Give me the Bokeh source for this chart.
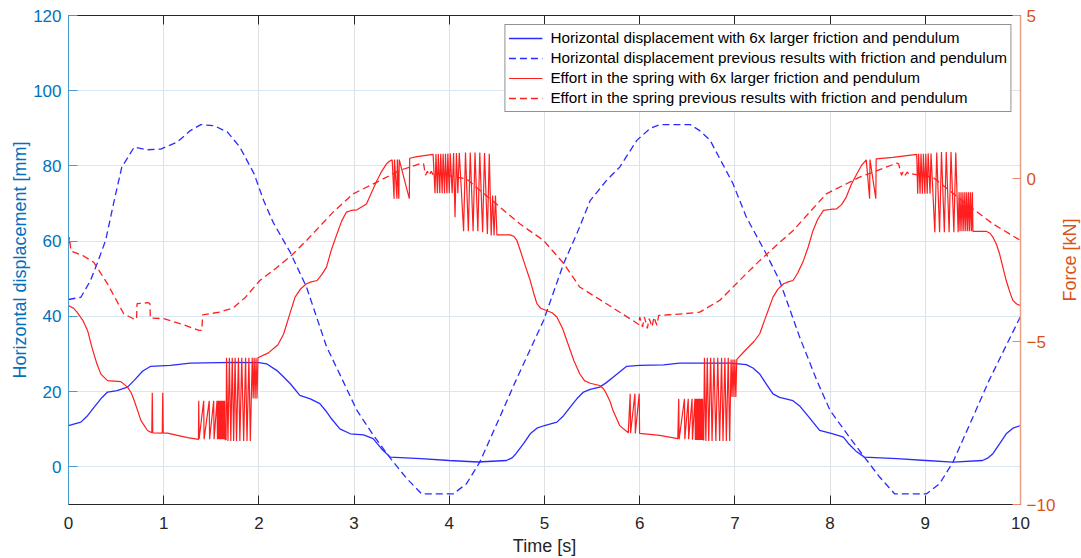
import math
from bokeh.plotting import figure
from bokeh.layouts import row
from bokeh.models import Range1d, LinearAxis, FixedTicker, Legend, LegendItem
from bokeh.core.properties import value
from bokeh.embed import file_html
from bokeh.resources import INLINE

# ---------------- data ----------------
x_ticks = [0, 1, 2, 3, 4, 5, 6, 7, 8, 9, 10]
left_ticks = [0, 20, 40, 60, 80, 100, 120]
right_ticks = [-10, -5, 0, 5]

legend_labels = [
    "Horizontal displacement with 6x larger friction and pendulum",
    "Horizontal displacement previous results with friction and pendulum",
    "Effort in the spring with 6x larger friction and pendulum",
    "Effort in the spring previous results with friction and pendulum",
]

# Horizontal displacement, 6x larger friction [mm]
t_disp_new = [0.00, 0.13, 0.20, 0.27, 0.35, 0.41, 0.51, 0.62, 0.69, 0.78, 0.86, 1.07, 1.28, 1.73,
              2.00, 2.08, 2.19, 2.26, 2.33, 2.43, 2.54, 2.64, 2.70, 2.75, 2.85, 2.96, 3.10, 3.20,
              3.25, 3.30, 3.38, 3.70, 4.00, 4.30, 4.60, 4.66, 4.70, 4.78, 4.85, 4.92, 5.00, 5.13,
              5.20, 5.27, 5.35, 5.41, 5.48, 5.58, 5.65, 5.72, 5.86, 6.00, 6.25, 6.42, 6.95, 7.12,
              7.19, 7.26, 7.33, 7.40, 7.47, 7.61, 7.68, 7.75, 7.89, 8.03, 8.14, 8.20, 8.28, 8.36,
              8.70, 9.01, 9.29, 9.60, 9.66, 9.71, 9.78, 9.85, 9.92, 10.00]
disp_new = [11.0, 11.9, 13.6, 15.9, 18.4, 19.9, 20.3, 21.2, 23.0, 25.5, 26.7, 27.0, 27.6, 27.8,
            27.7, 27.4, 25.6, 23.9, 22.1, 19.0, 18.1, 16.8, 15.0, 13.2, 10.1, 8.8, 8.5, 7.5,
            6.0, 4.5, 2.6, 2.2, 1.7, 1.3, 1.7, 2.4, 3.5, 6.2, 8.8, 10.3, 11.0, 11.9,
            13.6, 15.9, 18.4, 19.9, 20.6, 21.2, 22.4, 23.8, 26.7, 27.0, 27.1, 27.6, 27.6, 27.2,
            26.3, 24.7, 22.0, 19.4, 18.5, 17.6, 16.2, 14.1, 9.7, 8.8, 7.9, 6.0, 4.0, 2.6,
            2.2, 1.7, 1.25, 1.7, 2.4, 3.5, 6.1, 8.8, 10.3, 11.0]

# Horizontal displacement, previous results [mm]
t_disp_prev = [0.00, 0.13, 0.23, 0.30, 0.39, 0.48, 0.56, 0.69, 0.82, 0.97, 1.14, 1.28, 1.39, 1.53,
               1.67, 1.80, 1.95, 2.05, 2.15, 2.33, 2.50, 2.71, 2.88, 3.03, 3.20, 3.39, 3.55, 3.71,
               4.04, 4.18, 4.32, 4.53, 4.70, 4.99, 5.20, 5.34, 5.48, 5.65, 5.79, 5.97, 6.11, 6.21,
               6.53, 6.63, 6.74, 6.98, 7.12, 7.33, 7.47, 7.68, 7.86, 8.00, 8.20, 8.36, 8.52, 8.68,
               9.01, 9.15, 9.29, 9.50, 9.67, 10.00]
disp_prev = [44.5, 45.1, 49.5, 54.0, 60.2, 70.8, 79.7, 85.0, 84.3, 84.5, 86.3, 89.4, 91.0, 90.7,
             89.0, 85.0, 77.9, 70.8, 65.0, 57.0, 47.8, 32.0, 23.0, 15.0, 8.5, 2.0, -3.0, -7.2,
             -7.2, -4.5, 1.25, 13.2, 23.0, 38.9, 54.0, 62.0, 70.8, 76.1, 79.7, 86.8, 90.0, 91.0,
             91.0, 89.4, 86.8, 75.3, 66.4, 56.6, 49.5, 34.5, 23.0, 15.0, 8.0, 2.6, -2.7, -7.2,
             -7.2, -4.5, 1.25, 13.2, 23.0, 40.0]

# Effort in the spring, 6x larger friction [kN]
t_force_new = [
    0.00, 0.05, 0.09, 0.15, 0.20, 0.25, 0.30, 0.34, 0.41, 0.55, 0.62, 0.66, 0.69, 0.73, 0.76, 0.83, 0.875,
    0.880, 0.885, 0.985, 0.990, 0.995, 1.04, 1.25, 1.365,
    1.368, 1.372, 1.420, 1.424, 1.478, 1.482, 1.525, 1.529,
    1.560, 1.565, 1.570, 1.575, 1.580, 1.585, 1.590, 1.595, 1.600, 1.605,
    1.610, 1.615, 1.620, 1.625, 1.630, 1.635, 1.640, 1.645,
    1.655, 1.660, 1.675, 1.690, 1.705, 1.720, 1.735, 1.750, 1.765, 1.785,
    1.800, 1.820, 1.840, 1.860, 1.875, 1.895, 1.910, 1.930, 1.940, 1.950,
    1.960, 1.970, 1.980, 1.990,
    2.10, 2.20, 2.26, 2.32, 2.38, 2.44, 2.50, 2.55, 2.61, 2.66, 2.71, 2.76, 2.82, 2.87, 2.92,
    2.97, 3.03, 3.13, 3.18, 3.24, 3.29, 3.34, 3.37, 3.40,
    3.420, 3.424, 3.450, 3.454, 3.470, 3.474, 3.580, 3.584,
    3.66, 3.83,
    3.850, 3.860, 3.875, 3.885, 3.900, 3.910, 3.925, 3.935, 3.950, 3.960,
    3.975, 3.985, 4.000, 4.010, 4.030, 4.045, 4.060, 4.075, 4.090, 4.105,
    4.150, 4.170, 4.200, 4.220, 4.250, 4.270, 4.300, 4.320, 4.350, 4.370,
    4.400, 4.420, 4.440, 4.455, 4.470, 4.485, 4.500,
    4.64, 4.68, 4.71, 4.745, 4.78, 4.85, 4.89, 4.92, 4.96, 5.02, 5.08, 5.13, 5.19, 5.25, 5.31,
    5.37, 5.42, 5.48, 5.58, 5.62, 5.65, 5.69, 5.72, 5.79, 5.88,
    5.900, 5.904, 5.950, 5.954, 5.995, 5.999,
    6.21, 6.40,
    6.410, 6.414, 6.470, 6.474, 6.510, 6.514, 6.550, 6.554,
    6.580, 6.585, 6.590, 6.595, 6.600, 6.605, 6.610, 6.615, 6.620, 6.625,
    6.630, 6.635, 6.640, 6.645, 6.650, 6.655, 6.660, 6.665,
    6.672, 6.680, 6.695, 6.710, 6.725, 6.745, 6.760, 6.780, 6.800, 6.820,
    6.840, 6.860, 6.875, 6.895, 6.910, 6.930, 6.945, 6.960, 6.970, 6.980,
    6.990, 7.000, 7.010, 7.020,
    7.10, 7.20, 7.26, 7.33, 7.40, 7.45, 7.51, 7.56, 7.61, 7.66, 7.72, 7.77, 7.82, 7.87, 7.93,
    8.00, 8.07, 8.12, 8.17, 8.22, 8.28, 8.33, 8.38,
    8.415, 8.419, 8.480, 8.484,
    8.66, 8.91,
    8.920, 8.930, 8.945, 8.955, 8.970, 8.980, 8.995, 9.005, 9.020, 9.030,
    9.050, 9.060, 9.100, 9.120, 9.150, 9.170, 9.200, 9.220, 9.250, 9.270,
    9.300, 9.320, 9.345, 9.355, 9.365, 9.375, 9.385, 9.395, 9.405, 9.415,
    9.425, 9.435, 9.445, 9.455, 9.465, 9.475, 9.485, 9.495, 9.500,
    9.64, 9.68, 9.71, 9.745, 9.78, 9.85, 9.89, 9.92, 9.96, 10.00,
]
force_new = [
    -3.90, -3.97, -4.10, -4.35, -4.66, -5.22, -5.70, -6.00, -6.20, -6.23, -6.40, -6.58, -6.81, -7.15, -7.42, -7.73, -7.80,
    -6.57, -7.80, -7.81, -6.57, -7.81, -7.81, -7.95, -8.00,
    -6.82, -8.00, -6.82, -8.00, -6.82, -8.00, -6.82, -8.00,
    -6.82, -8.00, -6.82, -8.00, -6.82, -8.00, -6.82, -8.00, -6.82, -8.00,
    -6.82, -8.00, -6.82, -8.00, -6.82, -8.00, -6.82, -8.00,
    -8.02, -5.50, -8.05, -5.50, -8.05, -5.50, -8.05, -5.50, -8.05, -5.50,
    -8.05, -5.50, -8.05, -5.50, -8.05, -5.50, -8.05, -5.50, -6.75, -5.50,
    -6.75, -5.50, -6.75, -5.50,
    -5.35, -5.10, -4.77, -4.20, -3.64, -3.38, -3.23, -3.17, -3.13, -2.95, -2.72, -2.20, -1.70, -1.30, -1.03,
    -0.98, -0.96, -0.78, -0.45, -0.06, 0.22, 0.45, 0.53, 0.57,
    -0.62, 0.58, -0.62, 0.58, -0.62, 0.58, -0.62, 0.62,
    0.67, 0.74,
    -0.45, 0.75, -0.45, 0.75, -0.45, 0.76, -0.45, 0.76, -0.45, 0.76,
    -0.45, 0.77, -0.45, 0.77, -0.45, 0.78, -1.19, 0.78, -0.45, 0.79,
    -1.62, 0.80, -1.62, 0.80, -1.62, 0.80, -1.62, 0.80, -1.65, 0.78,
    -1.70, 0.76, -1.75, -0.52, -1.75, -0.52, -1.73,
    -1.73, -1.78, -1.90, -2.20, -2.52, -3.13, -3.55, -3.84, -3.98, -4.05, -4.12, -4.25, -4.60, -5.10, -5.60,
    -5.99, -6.20, -6.28, -6.35, -6.45, -6.60, -6.85, -7.12, -7.58, -7.80,
    -6.60, -7.81, -6.60, -7.82, -6.60, -7.82,
    -7.88, -7.98,
    -6.76, -8.00, -6.76, -8.00, -6.76, -8.00, -6.76, -8.01,
    -6.76, -8.02, -6.76, -8.02, -6.76, -8.02, -6.76, -8.02, -6.76, -8.02,
    -6.76, -8.02, -6.76, -8.02, -6.76, -8.02, -6.76, -8.02,
    -8.02, -5.50, -8.05, -5.50, -8.05, -5.50, -8.05, -5.50, -8.05, -5.50,
    -8.05, -5.50, -8.05, -5.50, -8.05, -5.50, -8.05, -5.55, -6.70, -5.55,
    -6.70, -5.55, -6.70, -5.55,
    -5.30, -5.00, -4.77, -4.20, -3.64, -3.40, -3.23, -3.17, -3.13, -2.90, -2.52, -2.10, -1.60, -1.25, -0.98,
    -0.95, -0.93, -0.80, -0.57, -0.20, 0.14, 0.40, 0.57,
    -0.62, 0.58, -0.62, 0.60,
    0.65, 0.74,
    -0.47, 0.76, -0.47, 0.76, -0.47, 0.76, -0.47, 0.76, -0.47, 0.77,
    -0.47, 0.77, -1.65, 0.80, -1.65, 0.81, -1.65, 0.81, -1.65, 0.81,
    -1.65, 0.80, -1.65, -0.42, -1.62, -0.42, -1.62, -0.42, -1.62, -0.42,
    -1.62, -0.42, -1.62, -0.42, -1.62, -0.42, -1.62, -0.42, -1.62,
    -1.62, -1.68, -1.80, -2.00, -2.31, -3.13, -3.50, -3.74, -3.85, -3.90,
]

# Effort in the spring, previous results [kN]
t_force_prev = [0.00, 0.01, 0.025, 0.056, 0.15, 0.265, 0.41, 0.58, 0.70, 0.715, 0.72, 0.84, 0.855,
                0.86, 1.00, 1.20, 1.37, 1.40, 1.41, 1.59, 1.73, 1.86, 2.01, 2.18, 2.35, 2.50,
                2.68, 2.78, 2.99, 3.24, 3.48, 3.71, 3.73, 3.75, 3.77, 3.79, 3.81, 3.83, 3.85,
                3.87, 3.90, 4.18, 4.46, 4.74, 4.99, 5.20, 5.37, 5.65, 5.93, 5.99, 6.00, 6.03,
                6.05, 6.08, 6.10, 6.13, 6.15, 6.18, 6.20, 6.30, 6.46, 6.63, 6.84, 7.12, 7.26,
                7.47, 7.61, 7.96, 8.31, 8.70, 8.72, 8.75, 8.77, 8.79, 8.81, 8.83, 8.86, 9.08,
                9.43, 9.71, 10.00]
force_prev = [-2.00, -1.80, -2.22, -2.26, -2.36, -2.57, -3.23, -4.15, -4.33, -4.30, -3.84, -3.81, -3.84,
              -4.28, -4.30, -4.48, -4.66, -4.66, -4.18, -4.10, -3.97, -3.64, -3.13, -2.75, -2.34, -1.90,
              -1.34, -1.03, -0.47, -0.11, 0.25, 0.47, 0.45, 0.10, 0.22, 0.10, 0.22, 0.12, 0.20,
              0.13, 0.14, -0.01, -0.70, -1.39, -1.90, -2.60, -3.33, -3.84, -4.36, -4.48, -4.25, -4.55,
              -4.25, -4.60, -4.30, -4.55, -4.25, -4.50, -4.20, -4.18, -4.15, -4.10, -3.74, -2.92, -2.52,
              -1.96, -1.60, -0.47, 0.04, 0.47, 0.45, 0.10, 0.22, 0.10, 0.20, 0.12, 0.14, 0.04,
              -0.78, -1.39, -1.90]

# ---------------- styling ----------------
FONT = "Liberation Sans"
BLUE_AX = "#0072BD"
ORANGE_AX = "#D95319"
DARK = "#262626"

p = figure(width=1058, height=558, x_range=Range1d(0, 10), y_range=Range1d(-10, 120),
           output_backend="svg", toolbar_location=None,
           min_border_left=68, min_border_right=37, min_border_top=15, min_border_bottom=54)
p.extra_y_ranges = {"force": Range1d(-10, 5)}
p.outline_line_color = None
p.background_fill_color = "white"
p.border_fill_color = "white"

# grids
p.xgrid.ticker = FixedTicker(ticks=x_ticks)
p.ygrid.ticker = FixedTicker(ticks=left_ticks)
p.xgrid.grid_line_color = "#DEE2E6"
p.ygrid.grid_line_color = "#D6E8F4"

# bottom axis
xa = p.xaxis[0]
xa.ticker = FixedTicker(ticks=x_ticks)
xa.axis_label = "Time [s]"
xa.axis_line_color = DARK
xa.major_tick_line_color = DARK
xa.major_tick_in = 9
xa.major_tick_out = 0
xa.minor_tick_line_color = None
xa.major_label_text_color = DARK
xa.major_label_text_font = FONT
xa.major_label_text_font_size = "17px"
xa.major_label_standoff = 12
xa.axis_label_text_font = FONT
xa.axis_label_text_font_size = "18px"
xa.axis_label_text_font_style = "normal"
xa.axis_label_text_color = DARK
xa.axis_label_standoff = 4

# top axis (ticks only)
ta = LinearAxis(ticker=FixedTicker(ticks=x_ticks))
ta.axis_line_color = DARK
ta.major_tick_line_color = DARK
ta.major_tick_in = 9
ta.major_tick_out = 0
ta.minor_tick_line_color = None
ta.major_label_overrides = {t: "" for t in x_ticks}
ta.major_label_text_font_size = "1px"
ta.major_label_standoff = 0
p.add_layout(ta, "above")

# left axis
ya = p.yaxis[0]
ya.ticker = FixedTicker(ticks=left_ticks)
ya.axis_label = "Horizontal displacement [mm]"
ya.axis_line_color = "#4A9AD2"
ya.major_tick_line_color = "#4A9AD2"
ya.major_tick_in = 9
ya.major_tick_out = 0
ya.minor_tick_line_color = None
ya.major_label_text_color = BLUE_AX
ya.major_label_text_font = FONT
ya.major_label_text_font_size = "17px"
ya.major_label_standoff = 7
ya.axis_label_text_font = FONT
ya.axis_label_text_font_size = "18px"
ya.axis_label_text_font_style = "normal"
ya.axis_label_text_color = BLUE_AX
ya.axis_label_standoff = 0

# right axis (ticks and numbers)
ra = LinearAxis(y_range_name="force", ticker=FixedTicker(ticks=right_ticks))
ra.axis_line_color = "#EC9F86"
ra.axis_line_width = 1.5
ra.major_tick_line_color = "#E8896C"
ra.major_tick_in = 8
ra.major_tick_out = 0
ra.minor_tick_line_color = None
ra.major_label_text_color = ORANGE_AX
ra.major_label_text_font = FONT
ra.major_label_text_font_size = "17px"
ra.major_label_standoff = 6
p.add_layout(ra, "right")

# ---------------- lines ----------------
r1 = p.line(t_disp_new, disp_new, line_color="#2B2BFF", line_width=1.3)
r2 = p.line(t_disp_prev, disp_prev, line_color="#2B2BFF", line_width=1.3, line_dash="7 4")
r3 = p.line(t_force_new, force_new, line_color="#FF1F1F", line_width=1.2, y_range_name="force")
r4 = p.line(t_force_prev, force_prev, line_color="#FF1F1F", line_width=1.3, line_dash="7 4",
            y_range_name="force")

legend = Legend(items=[LegendItem(label=legend_labels[0], renderers=[r1]),
                       LegendItem(label=legend_labels[1], renderers=[r2]),
                       LegendItem(label=legend_labels[2], renderers=[r3]),
                       LegendItem(label=legend_labels[3], renderers=[r4])],
                location="top_right")
legend.border_line_color = DARK
legend.border_line_width = 1
legend.background_fill_color = "white"
legend.background_fill_alpha = 1.0
legend.label_text_font = FONT
legend.label_text_font_size = "15.3px"
legend.label_text_color = "black"
legend.glyph_width = 34
legend.glyph_height = 20
legend.label_height = 20
legend.label_standoff = 8
legend.spacing = 0
legend.padding = 3
legend.margin = 9
p.add_layout(legend)

# narrow strip on the right carrying the right-axis title (reads bottom-to-top)
p2 = figure(width=23, height=558, x_range=Range1d(0, 1), y_range=Range1d(-10, 5),
            x_axis_type=None, y_axis_type=None, output_backend="svg", toolbar_location=None,
            min_border_left=0, min_border_right=0, min_border_top=15, min_border_bottom=54)
p2.outline_line_color = None
p2.background_fill_color = "white"
p2.border_fill_color = "white"
p2.text(x=[0.5], y=[(right_ticks[0] + right_ticks[-1]) / 2], text=["Force [kN]"],
        angle=math.pi / 2, text_align="center", text_baseline="middle",
        text_font=value(FONT), text_font_size="18px", text_color=ORANGE_AX)

layout = row(p, p2)
open("out.html", "w").write(file_html(layout, INLINE))
